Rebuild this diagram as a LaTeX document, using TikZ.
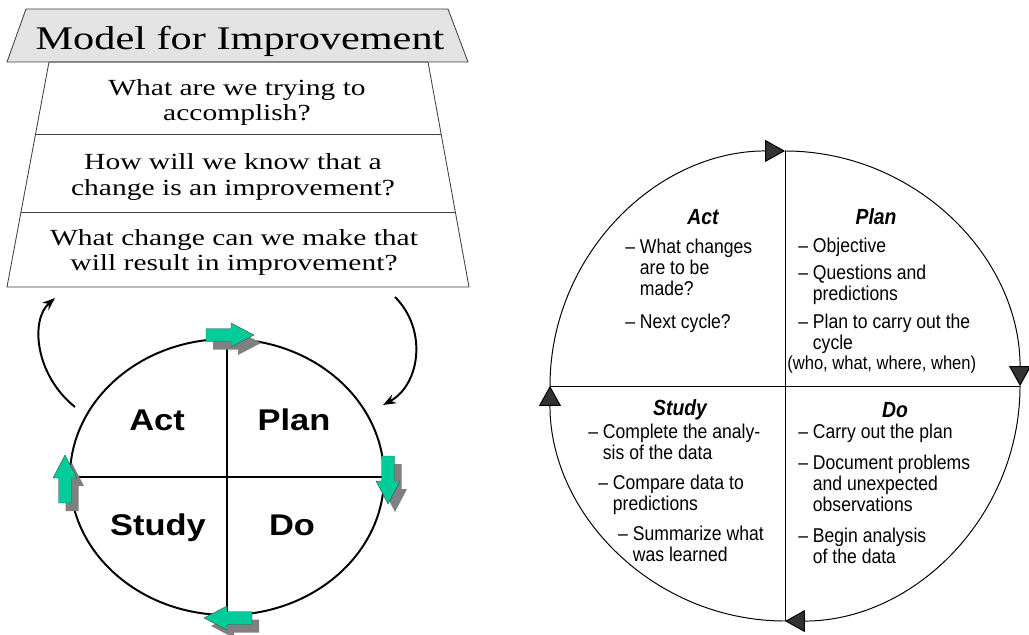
\documentclass[tikz,border=0pt]{standalone}
\usepackage{fontspec}
\usepackage{xcolor}
\usepackage{tikz}
\usetikzlibrary{arrows.meta,calc,shapes.geometric}
\newfontfamily\serifwide[FakeStretch=1.28]{Liberation Serif}
\newfontfamily\sanswide[FakeStretch=1.15]{Liberation Sans}
\newfontfamily\sansnarrow[FakeStretch=0.88]{Liberation Sans}
\definecolor{pdcagreen}{HTML}{00CC99}
\definecolor{boxgray}{HTML}{E3E3E3}
\definecolor{tipgray}{HTML}{333333}
\newcommand{\dashind}{\phantom{–\ }}
% fat arrow pointing right, centred on the origin
\newcommand{\blockarrow}{(-24,-6.5) -- (1,-6.5) -- (1,-12) -- (24,0) -- (1,12) -- (1,6.5) -- (-24,6.5) -- cycle}
\newcommand{\turnarrow}[3]{% x, y, angle
  \fill[black!50, shift={(#1+7,#2+8)}, rotate=#3] \blockarrow;
  \filldraw[fill=pdcagreen, draw=black!70, line width=0.3pt, shift={(#1,#2)}, rotate=#3] \blockarrow;}

\begin{document}
\begin{tikzpicture}[x=0.025cm, y=-0.025cm, line join=round,
    trap/.style={draw=black!75, line width=0.6pt},
    question/.style={font=\serifwide\fontsize{16.4}{17.8}\selectfont, align=center, inner sep=0pt},
    phase/.style={font=\sanswide\bfseries\fontsize{21.3}{24}\selectfont, inner sep=0pt, anchor=base},
    loopback/.style={line width=1.4pt, -{Stealth[length=3.2mm, width=2.4mm]}},
    heading/.style={font=\sansnarrow\bfseries\itshape\fontsize{15.6}{18}\selectfont, inner sep=0pt, anchor=base},
    notes/.style={font=\sansnarrow\fontsize{14.2}{15}\selectfont, align=left, inner sep=0pt, anchor=north west},
    quarter/.style={line width=0.7pt, -{Triangle[length=5mm, width=5.5mm, fill=tipgray]}}]
  \useasboundingbox (0,0) rectangle (1029,635);

  % model for improvement: header and the three questions
  \filldraw[trap, fill=boxgray] (26,9) -- (448,9) -- (468,62) -- (7,62) -- cycle;
  \coordinate (tl) at (49,62); \coordinate (tr) at (428,62);
  \coordinate (bl) at (7,287); \coordinate (br) at (469,287);
  \draw[trap] (tl) -- (tr) -- (br) -- (bl) -- cycle;
  \draw[trap] ($(tl)!0.324!(bl)$) -- ($(tr)!0.324!(br)$);
  \draw[trap] ($(tl)!0.667!(bl)$) -- ($(tr)!0.667!(br)$);
  \node[font=\serifwide\fontsize{23.5}{26}\selectfont, inner sep=0pt, anchor=base] (title) at (240,50) {Model for Improvement};
  \node[question] (aim) at (237,102) {What are we trying to\\accomplish?};
  \node[question] (measure) at (233,177) {How will we know that a\\change is an improvement?};
  \node[question] (change) at (234,252) {What change can we make that\\will result in improvement?};

  % small cycle
  \node[draw, ellipse, line width=1.4pt, minimum width=7.85cm, minimum height=6.9cm, inner sep=0pt, outer sep=0pt] (cyc) at (227,477) {};
  \draw[line width=1.4pt] (cyc.north) -- (cyc.south);
  \draw[line width=1.4pt] (cyc.west) -- (cyc.east);
  \node[phase] (act) at (157,430) {Act};
  \node[phase] (plan) at (294,430) {Plan};
  \node[phase] (study) at (158,535) {Study};
  \node[phase] (do) at (292,535) {Do};
  \turnarrow{230}{335}{0}
  \turnarrow{388}{480}{-90}
  \turnarrow{228}{618}{180}
  \turnarrow{65}{479}{90}

  \coordinate (backstart) at (75,407); \coordinate (backend) at (55,298);
  \draw[loopback] (backstart) .. controls (35,375) and (30,320) .. (backend);
  \coordinate (fwdstart) at (395,297); \coordinate (fwdend) at (383,405);
  \draw[loopback] (fwdstart) .. controls (428,330) and (420,385) .. (fwdend);

  % PDSA wheel with notes
  \coordinate (pdsa) at (785,386);
  \draw[quarter] ($(pdsa)+(-235,0)$) arc[start angle=180, end angle=90, radius=5.875cm];
  \draw[quarter] ($(pdsa)+(0,-235)$) arc[start angle=90, end angle=0, radius=5.875cm];
  \draw[quarter] ($(pdsa)+(235,0)$) arc[start angle=0, end angle=-90, radius=5.875cm];
  \draw[quarter] ($(pdsa)+(0,235)$) arc[start angle=270, end angle=180, radius=5.875cm];
  \draw[line width=0.6pt] ($(pdsa)+(0,-235)$) -- ($(pdsa)+(0,235)$);
  \draw[line width=0.6pt] ($(pdsa)+(-235,0)$) -- ($(pdsa)+(235,0)$);

  \node[heading] (acthead) at (703,225) {Act};
  \node[heading] (planhead) at (876,225) {Plan};
  \node[heading] (studyhead) at (680,415) {Study};
  \node[heading] (dohead) at (895,417) {Do};

  \node[notes] (actnotes) at (625,239) {– What changes\\\dashind are to be\\\dashind made?\\[8pt]– Next cycle?};
  \node[notes] (plannotes) at (798,238) {– Objective\\[4pt]– Questions and\\\dashind predictions\\[5pt]– Plan to carry out the\\\dashind cycle};
  \node[notes, anchor=base west, font=\sansnarrow\fontsize{13.4}{15}\selectfont] (planwho) at (787,369) {(who, what, where, when)};
  \node[notes] (studynotes) at (588,424) {– Complete the analy-\\\dashind sis of the data\\[6pt]\hspace*{7.1pt}– Compare data to\\\hspace*{7.1pt}\dashind predictions\\[6pt]\hspace*{21.3pt}– Summarize what\\\hspace*{21.3pt}\dashind was learned};
  \node[notes] (donotes) at (798,424) {– Carry out the plan\\[7pt]– Document problems\\\dashind and unexpected\\\dashind observations\\[7pt]– Begin analysis\\\dashind of the data};
\end{tikzpicture}
\end{document}
